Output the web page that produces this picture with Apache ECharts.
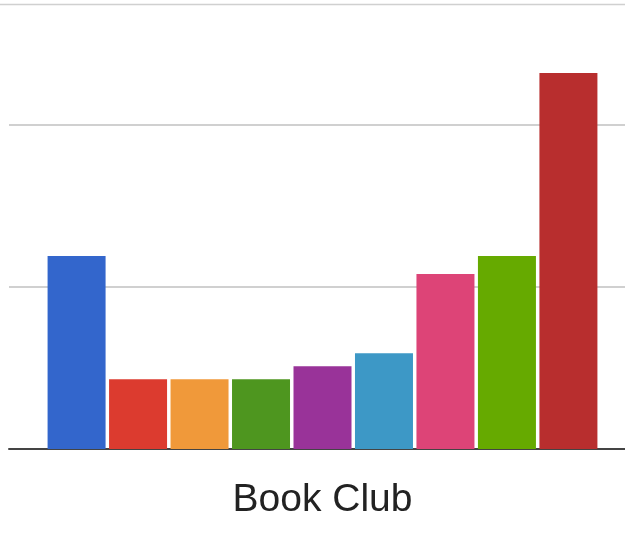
<!DOCTYPE html>
<html>
<head>
<meta charset="utf-8">
<script src="https://cdn.jsdelivr.net/npm/echarts@6/dist/echarts.min.js"></script>
<style>html,body{margin:0;padding:0;background:#fff;}#c{width:625px;height:546px;}</style>
</head>
<body>
<div id="c"></div>
<script>
const categories = ['Book Club'];
const seriesNames = ['A', 'B', 'C', 'D', 'E', 'F', 'G', 'H', 'I'];
const seriesValues = [11.9, 4.3, 4.3, 4.3, 5.1, 5.9, 10.8, 11.9, 23.2];
const seriesColors = ['#3366cc', '#dc3b2f', '#f0993a', '#4e961f', '#993399', '#3d98c6', '#dd4477', '#66aa00', '#b82e2e'];
const yMin = 0;
const yMax = 27.7;
const yInterval = 10;

const chart = echarts.init(document.getElementById('c'), null, {renderer: 'canvas'});
const yAxisBase = {
  type: 'value',
  min: yMin,
  max: yMax,
  interval: yInterval,
  axisLine: {show: false},
  axisTick: {show: false},
  axisLabel: {show: false}
};
chart.setOption({
  animation: false,
  grid: [
    {left: 9, right: 0, top: 0, height: 449},
    {left: 20, right: 0, top: 0, height: 449}
  ],
  xAxis: [{
    gridIndex: 0,
    type: 'category',
    data: categories,
    axisLine: {show: true, lineStyle: {color: '#444', width: 2}},
    axisTick: {show: false},
    axisLabel: {show: false}
  }, {
    gridIndex: 1,
    type: 'category',
    data: categories,
    axisLine: {show: false},
    axisTick: {show: false},
    axisLabel: {fontSize: 39, color: '#222', fontFamily: 'Liberation Sans, Arial, sans-serif', margin: 32}
  }],
  yAxis: [
    Object.assign({gridIndex: 0, splitLine: {show: true, showMaxLine: false, showMinLine: false, lineStyle: {color: '#d0d0d0', width: 2}}}, yAxisBase),
    Object.assign({gridIndex: 1, splitLine: {show: false}}, yAxisBase)
  ],
  graphic: [{
    type: 'line', shape: {x1: 0, y1: 4.5, x2: 625, y2: 4.5},
    style: {stroke: '#d0d0d0', lineWidth: 1.5}, silent: true
  }],
  series: seriesNames.map((n, i) => ({
    name: n,
    type: 'bar',
    xAxisIndex: 1,
    yAxisIndex: 1,
    barWidth: 58,
    barGap: '6%',
    itemStyle: {color: seriesColors[i]},
    data: [seriesValues[i]]
  }))
});
</script>
</body>
</html>
